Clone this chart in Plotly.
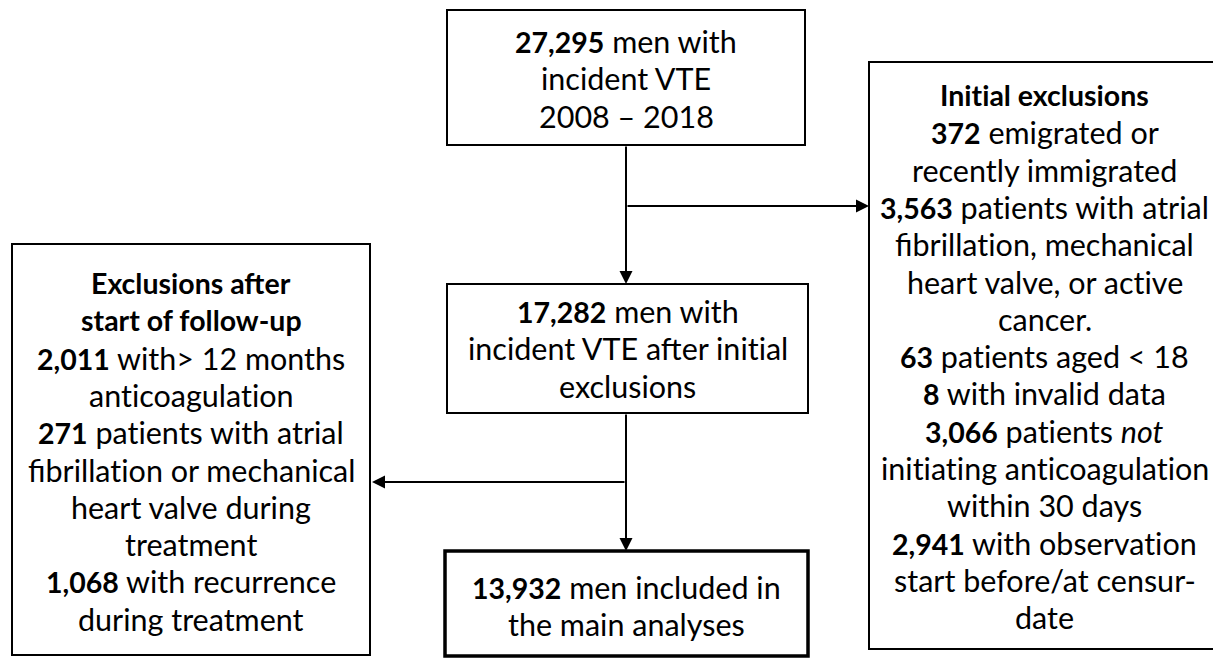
import plotly.graph_objects as go

W, H = 1221, 659

# ---- content ----
top_lines = ["<b>27,295</b> men with", "incident VTE", "2008 – 2018"]
mid_lines = ["<b>17,282</b> men with", "incident VTE after initial", "exclusions"]
bottom_lines = ["<b>13,932</b> men included in", "the main analyses"]
right_lines = [
    "<b>Initial exclusions</b>",
    "<b>372</b> emigrated or",
    "recently immigrated",
    "<b>3,563</b> patients with atrial",
    "fibrillation, mechanical",
    "heart valve, or active",
    "cancer.",
    "<b>63</b> patients aged &lt; 18",
    "<b>8</b> with invalid data",
    "<b>3,066</b> patients <i>not</i>",
    "initiating anticoagulation",
    "within 30 days",
    "<b>2,941</b> with observation",
    "start before/at censur-",
    "date",
]
left_lines = [
    "<b>Exclusions after</b>",
    "<b>start of follow-up</b>",
    "<b>2,011</b> with&gt; 12 months",
    "anticoagulation",
    "<b>271</b> patients with atrial",
    "fibrillation or mechanical",
    "heart valve during",
    "treatment",
    "<b>1,068</b> with recurrence",
    "during treatment",
]

# ---- styling / geometry (pixels) ----
FONT = "Lato"
FS = 30.5        # regular text
FS_BOLD = 28.5   # bold runs (Lato bold is wider than the original face)
LS = 37.3
PAGE_OFFSET = 8  # default body margin of the html page


def fmt(s):
    # keep the "ti" pair from being drawn as a ligature
    s = s.replace("ti", "t\u200ci")
    s = s.replace("<b>", '<b><span style="font-size:%spx">' % FS_BOLD)
    s = s.replace("</b>", "</span></b>")
    return s


boxes = {
    "top": dict(x0=447, x1=805, y0=10, y1=145, w=2, lines=top_lines, y_first=41),
    "mid": dict(x0=447, x1=808, y0=284, y1=413, w=2, lines=mid_lines, y_first=311),
    "bottom": dict(x0=445, x1=808, y0=551, y1=656, w=3.5, lines=bottom_lines, y_first=587),
    "right": dict(x0=869, x1=1220, y0=62, y1=649, w=2, lines=right_lines, y_first=95),
    "left": dict(x0=12, x1=370, y0=244, y1=655, w=2, lines=left_lines, y_first=283),
}

fig = go.Figure()
fig.add_trace(go.Scatter(x=[0, W], y=[0, H], mode="markers",
                         marker=dict(opacity=0), hoverinfo="skip", showlegend=False))

shapes = []
annotations = []
for b in boxes.values():
    shapes.append(dict(type="rect", xref="x", yref="y", x0=b["x0"], x1=b["x1"],
                       y0=b["y0"], y1=b["y1"], line=dict(color="black", width=b["w"]),
                       fillcolor="rgba(0,0,0,0)"))
    cx = (b["x0"] + b["x1"]) / 2
    for i, t in enumerate(b["lines"]):
        annotations.append(dict(x=cx, y=b["y_first"] + i * LS, xref="x", yref="y",
                                text=fmt(t), showarrow=False, xanchor="center",
                                yanchor="middle",
                                font=dict(family=FONT, size=FS, color="black")))

TRUNK_X = 626
arrows = [
    ((TRUNK_X, 145), (TRUNK_X, 284)),
    ((TRUNK_X, 206), (869, 206)),
    ((TRUNK_X, 413), (TRUNK_X, 551)),
    ((TRUNK_X, 482), (372, 482)),
]
for (sx, sy), (ex, ey) in arrows:
    annotations.append(dict(x=ex, y=ey, ax=sx, ay=sy, xref="x", yref="y",
                            axref="x", ayref="y", text="", showarrow=True,
                            arrowhead=2, arrowsize=1.3, arrowwidth=2,
                            arrowcolor="black", standoff=0, startstandoff=0))

fig.update_layout(
    width=W, height=H,
    margin=dict(l=0, r=0, t=0, b=0),
    paper_bgcolor="white", plot_bgcolor="white",
    xaxis=dict(range=[PAGE_OFFSET, W + PAGE_OFFSET], visible=False, fixedrange=True),
    yaxis=dict(range=[H + PAGE_OFFSET, PAGE_OFFSET], visible=False, fixedrange=True),
    shapes=shapes, annotations=annotations, showlegend=False,
)

fig.write_html("out.html")
